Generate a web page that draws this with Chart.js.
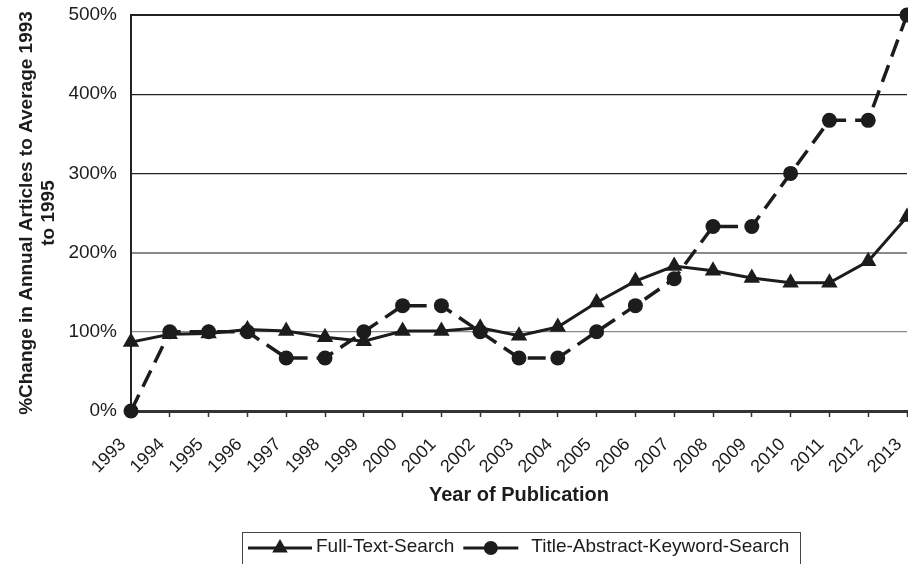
<!DOCTYPE html>
<html>
<head>
<meta charset="utf-8">
<script src="https://cdn.jsdelivr.net/npm/chart.js@4/dist/chart.umd.min.js"></script>
<style>
  html, body { margin: 0; padding: 0; background: #fff; overflow: hidden; }
  #wrap { width: 908px; height: 564px; position: relative; }
</style>
</head>
<body>
<div id="wrap"><canvas id="theChart"></canvas></div>
<script>
const years = ["1993", "1994", "1995", "1996", "1997", "1998", "1999", "2000", "2001", "2002", "2003",
  "2004", "2005", "2006", "2007", "2008", "2009", "2010", "2011", "2012", "2013"]
const fullText = [87, 97, 98, 103, 101, 93, 88, 101, 101, 105, 95, 106, 137, 164, 183, 177, 168, 162, 162, 189, 245]
const titleAbstract = [0, 100, 100, 100, 67, 67, 100, 133, 133, 100, 67, 67, 100, 133, 167, 233, 233, 300, 367, 367, 500]
const yTicks = [0, 100, 200, 300, 400, 500]

const ink = "#1c1c1c"
const fontFamily = "'Liberation Sans', Arial, sans-serif"

// legend drawn by hand: line + marker + label, inside a box
const boxLegend = {
  id: "boxLegend",
  afterDraw(chart) {
    const ctx = chart.ctx
    const y = 548
    ctx.save()
    ctx.font = "19px " + fontFamily
    ctx.textBaseline = "middle"
    ctx.fillStyle = ink
    ctx.strokeStyle = "#444"
    ctx.lineWidth = 1
    ctx.strokeRect(242.5, 532.5, 558, 60)

    let x = 248
    chart.data.datasets.forEach(function (ds, i) {
      let len = i == 0 ? 64 : 55
      ctx.strokeStyle = ink
      ctx.lineWidth = 3
      ctx.setLineDash([])
      ctx.beginPath()
      ctx.moveTo(x, y)
      ctx.lineTo(x + len, y)
      ctx.stroke()
      let cx = x + len / 2
      ctx.beginPath()
      if (ds.pointStyle == "triangle") {
        let r = 9
        ctx.moveTo(cx, y - r)
        ctx.lineTo(cx + r * 0.866, y + r / 2)
        ctx.lineTo(cx - r * 0.866, y + r / 2)
        ctx.closePath()
      } else {
        ctx.arc(cx, y, 7, 0, Math.PI * 2)
      }
      ctx.fill()
      x += len + (i == 0 ? 4 : 13)
      ctx.fillText(ds.label, x, y - 1)
      x += ctx.measureText(ds.label).width + 9
    })
    ctx.restore()
  }
}

let chart = document.getElementById("theChart").getContext("2d")

let currentChart = new Chart(chart, {
  type: "line",
  data: {
    labels: years,
    datasets: [
      {
        label: "Full-Text-Search",
        data: fullText,
        borderColor: ink,
        backgroundColor: ink,
        borderWidth: 3,
        pointStyle: "triangle",
        pointRadius: 9.5,
        pointBorderWidth: 0,
        tension: 0,
        clip: false
      },
      {
        label: "Title-Abstract-Keyword-Search",
        data: titleAbstract,
        borderColor: ink,
        backgroundColor: ink,
        borderWidth: 3.5,
        borderDash: [18, 9],
        pointStyle: "circle",
        pointRadius: 7.5,
        pointBorderWidth: 0,
        tension: 0,
        clip: false
      }
    ]
  },
  options: {
    responsive: true,
    maintainAspectRatio: false,
    animation: false,
    devicePixelRatio: 1,
    layout: { autoPadding: false, padding: { top: 15, right: 1, left: 0, bottom: 0 } },
    plugins: {
      legend: { display: false },
      tooltip: { enabled: false }
    },
    scales: {
      x: {
        type: "category",
        offset: false,
        afterFit(scale) {
          scale.height = 153
          scale.paddingLeft = 0
          scale.paddingRight = 0
        },
        grid: {
          drawOnChartArea: false,
          drawTicks: true,
          tickLength: 6,
          tickColor: "#333",
          tickWidth: 1.5
        },
        border: { display: true, color: "#333", width: 3 },
        ticks: {
          autoSkip: false,
          minRotation: 45,
          maxRotation: 45,
          padding: 17,
          labelOffset: -8,
          color: ink,
          font: { family: fontFamily, size: 18 }
        },
        title: {
          display: true,
          text: "Year of Publication",
          color: ink,
          font: { family: fontFamily, size: 20, weight: "bold" },
          padding: { top: 0, bottom: 57 }
        }
      },
      y: {
        min: 0,
        max: 500,
        afterFit(scale) {
          scale.width = 131
          scale.paddingTop = 0
          scale.paddingBottom = 0
        },
        afterBuildTicks(scale) {
          scale.ticks = yTicks.map(v => ({ value: v }))
        },
        grid: {
          drawTicks: false,
          color: ctx => (ctx.tick && (ctx.tick.value == 100 || ctx.tick.value == 200)) ? "#8a8a8a" : "#222",
          lineWidth: ctx => (ctx.tick && ctx.tick.value == 500) ? 2 : (ctx.tick && ctx.tick.value == 200 ? 2 : 1.3)
        },
        border: { display: true, color: "#222", width: 2 },
        ticks: {
          padding: 14,
          color: ink,
          font: { family: fontFamily, size: 19 },
          callback: v => v + "%"
        },
        title: {
          display: true,
          text: ["%Change in Annual Articles to Average 1993", "to 1995"],
          color: ink,
          font: { family: fontFamily, size: 19, weight: "bold" },
          padding: { top: 15, bottom: 0 }
        }
      }
    }
  },
  plugins: [boxLegend]
})
</script>
</body>
</html>
